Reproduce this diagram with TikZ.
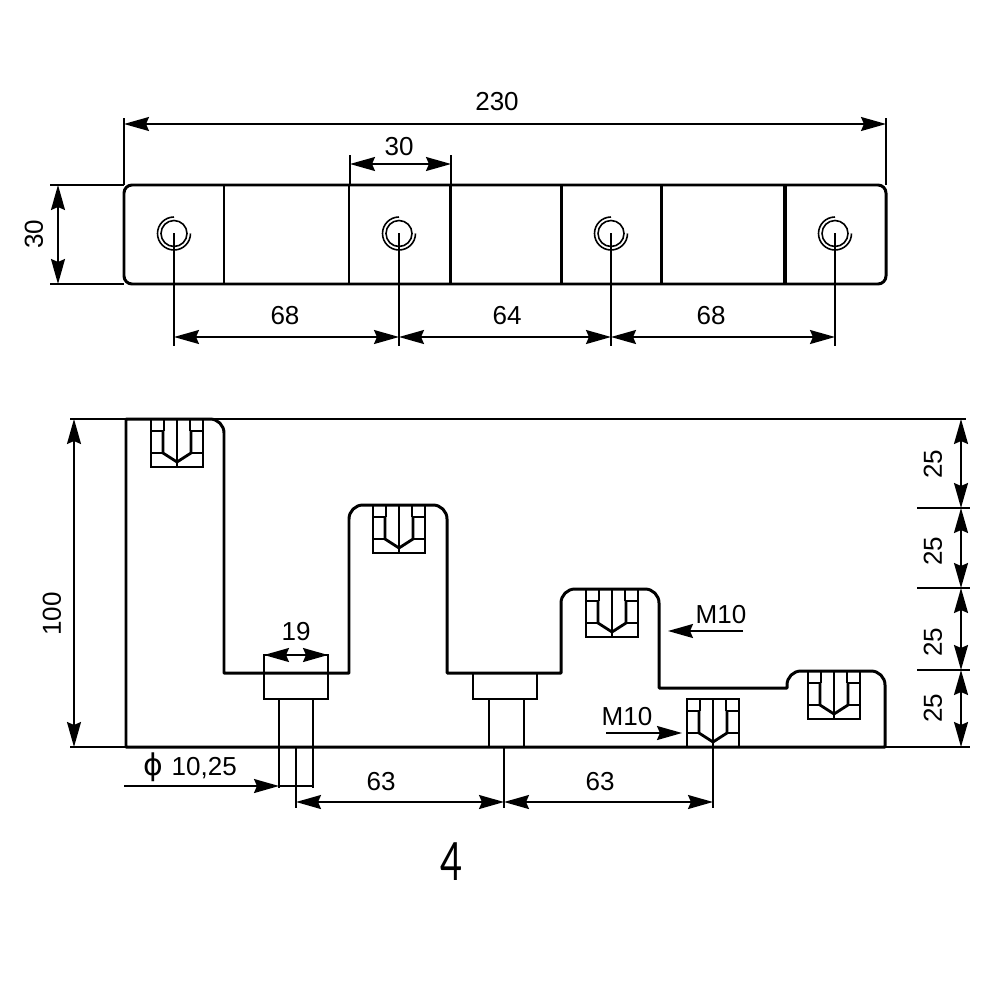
\documentclass[tikz,border=0pt]{standalone}
\usepackage{fontspec}
\setmainfont{Liberation Sans}
\newfontfamily\figfont{Lato}
\newfontfamily\phifont{DejaVu Sans}
\usetikzlibrary{arrows.meta}
\tikzset{
	dim/.style={line width=.5pt,{Stealth[length=2.5mm,width=1.4mm,inset=.3mm]}-{Stealth[length=2.5mm,width=1.4mm,inset=.3mm]}},
	arr/.style={line width=.5pt,-{Stealth[length=2.5mm,width=1.4mm,inset=.3mm]}},
	ext/.style={line width=.5pt},
	edge/.style={line width=.85pt,line join=round},
	lab/.style={font=\fontsize{7.4pt}{9pt}\selectfont,inner sep=0pt},
	thread/.pic={
		\draw[line width=.45pt] (-26,0) rectangle (26,48) (0,0)--(0,48)
		(-26,12)--(-13,12) (26,12)--(13,12) (-26,34)--(-14,34) (26,34)--(14,34) (-13,0)--(-13,12) (13,0)--(13,12);
		\draw[line width=.8pt] (-14,12)--(-14,34)--(0,43)--(14,34)--(14,12);
	}
}
\begin{document}
\begin{tikzpicture}[x=.01cm,y=-.01cm]
	\useasboundingbox (0,0) rectangle (1000,1000);
	% upper view
	\draw[edge,rounded corners=2.3pt] (124,185)--(886,185)--(886,284)--(124,284)--cycle;
	\foreach \x in {224,349,450,561,661}\draw[edge] (\x,185)--(\x,284);
	\draw[line width=1.2pt] (785,185)--(785,284);
	\foreach \x in {174,399,611,835}{
		\draw[line width=.45pt] (\x,233.5) circle(13);
		\draw[line width=.45pt] (\x,217) arc(-90:-360:16.5);
		\draw[ext] (\x,233)--(\x,346);
	}
	\draw[ext] (124,118)--(124,185) (886,118)--(886,185) (350,155)--(350,185) (451,155)--(451,185)
	(50,185)--(124,185) (50,284)--(124,284);
	\path (497,102)node[lab](a1){230}
	(399,147)node[lab](a2){30}
	(34,234)node[lab,rotate=90](a3){30}
	(285,316)node[lab](a4){68}
	(507,316)node[lab](a5){64}
	(711,316)node[lab](a6){68};
	\draw[dim] (124,124)--(886,124);
	\draw[dim] (350,164)--(451,164);
	\draw[dim] (58,185)--(58,284);
	\draw[dim] (174,337)--(399,337);
	\draw[dim] (399,337)--(611,337);
	\draw[dim] (611,337)--(835,337);
	% lower view
	\draw[edge] (885,747)--(126,747)--(126,419)[rounded corners=3.98pt]--(224,419)[sharp corners]--(224,673)--(349,673)
	[rounded corners=3.98pt]--(349,505)--(447,505)[sharp corners]--(447,673)--(561,673)
	[rounded corners=3.98pt]--(561,589)--(659,589)[sharp corners]--(659,688)--(787,688)
	[rounded corners=3.98pt]--(787,671)--(885,671)[sharp corners]--cycle;
	\draw[ext] (70,419)--(966,419) (70,747)--(970,747) (917,508)--(970,508) (917,588)--(970,588) (917,670)--(970,670);
	\foreach \x/\y in {177/419,399/505,612/589,834/671,713/699}\path (\x,\y) pic{thread};
	\draw[line width=.6pt] (264,655) rectangle (328,699) (473,673) rectangle (537,699);
	\draw[line width=.7pt] (279,699)--(279,788) (313,699)--(313,788) (489,699)--(489,747) (524,699)--(524,747);
	\draw[ext] (296,747)--(296,808) (504,747)--(504,808) (713,747)--(713,808);
	\path (296,632)node[lab](b1){19}
	(190,767)node[lab](b2){{\phifont\fontsize{8.5pt}{9pt}\selectfont ϕ}\,\,10,25}
	(381,782)node[lab](b3){63}
	(600,782)node[lab](b4){63}
	(627,717)node[lab](b5){M10}
	(721,615)node[lab](b6){M10}
	(52,614)node[lab,rotate=90](b7){100}
	(933,464)node[lab,rotate=90](c1){25}
	(933,551)node[lab,rotate=90](c2){25}
	(933,642)node[lab,rotate=90](c3){25}
	(933,708)node[lab,rotate=90](c4){25}
	(452,862)node[inner sep=0pt,xscale=.72,font=\figfont\fontsize{15pt}{18pt}\selectfont](fig){4};
	\draw[dim] (74,419)--(74,747);
	\foreach \p/\q in {419/508,508/588,588/670,670/747}\draw[dim] (961,\p)--(961,\q);
	\draw[dim] (264,655)--(328,655);
	\draw[arr] (124,786)--(279,786);
	\draw[ext] (279,786)--(313,786);
	\draw[dim] (296,802)--(504,802);
	\draw[dim] (504,802)--(713,802);
	\draw[arr] (606,733)--(682,733);
	\draw[arr] (743,631)--(668,631);
\end{tikzpicture}
\end{document}
